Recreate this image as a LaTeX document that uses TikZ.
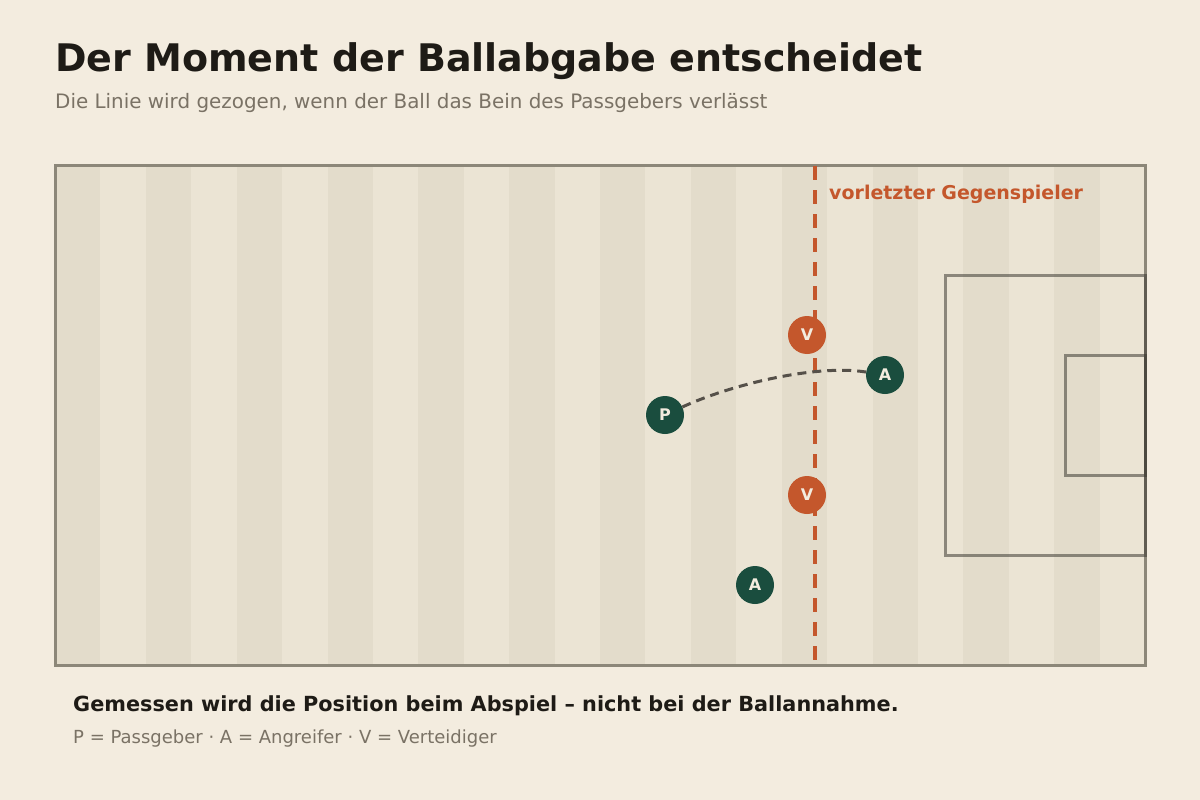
\documentclass[tikz,border=0pt]{standalone}
\usepackage{fontspec}
\setmainfont{DejaVu Sans}
\definecolor{bg}{HTML}{F3ECDF}
\definecolor{stripeA}{HTML}{E3DCCB}
\definecolor{stripeB}{HTML}{EBE4D4}
\definecolor{linegray}{HTML}{8C8779}
\definecolor{boxline}{HTML}{3D3A33}
\definecolor{orng}{HTML}{C4572C}
\definecolor{dgreen}{HTML}{1A4D3E}
\definecolor{ink}{HTML}{1E1B16}
\definecolor{muted}{HTML}{7A7265}
\definecolor{pathgray}{HTML}{555049}
\tikzset{
  player/.style={circle, fill=dgreen, minimum size=38pt, inner sep=0pt, text=bg, font=\fontsize{16}{16}\selectfont\bfseries},
  defender/.style={player, fill=orng},
  txt/.style={anchor=base west, inner sep=0pt},
  box/.style={boxline, draw opacity=0.55, line width=3pt},
}
\begin{document}
\begin{tikzpicture}[x=1pt,y=-1pt]
\useasboundingbox (0,0) rectangle (1200,800);
\fill[bg] (0,0) rectangle (1200,800);
% title
\node[txt, text=ink, font=\fontsize{38}{38}\selectfont\bfseries] (title) at (55,72) {Der Moment der Ballabgabe entscheidet};
\node[txt, text=muted, font=\fontsize{19.9}{20}\selectfont] (sub) at (55,108) {Die Linie wird gezogen, wenn der Ball das Bein des Passgebers verlässt};
% pitch stripes
\foreach \i in {0,...,23}{
  \pgfmathsetmacro{\xa}{55+\i*45.41667}
  \pgfmathsetmacro{\xb}{55+(\i+1)*45.41667}
  \ifodd\i \def\sc{stripeB}\else \def\sc{stripeA}\fi
  \fill[\sc] (\xa,165) rectangle (\xb,665);
}
% border
\draw[linegray, line width=3pt] (55,165) rectangle (1145,665);
% boxes
\draw[box] (1145,275) -- (945,275) -- (945,555) -- (1145,555) -- cycle;
\draw[box] (1145,355) -- (1065,355) -- (1065,475) -- (1145,475) -- cycle;
% offside line
\draw[orng, line width=4pt, dash pattern=on 14pt off 10pt] (815,166) -- (815,662);
\node[txt, text=orng, font=\fontsize{19}{19}\selectfont\bfseries] (lbl) at (829,199) {vorletzter Gegenspieler};
% players
\node[defender] (V1) at (807,335) {V};
\node[player] (A1) at (885,375) {A};
\node[player] (P) at (665,415) {P};
\node[defender] (V2) at (807,495) {V};
\node[player] (A2) at (755,585) {A};
\draw[pathgray, line width=3pt, dash pattern=on 9pt off 6pt] (P) .. controls (730,385) and (815,364) .. (A1);
% footer
\node[txt, text=ink, font=\fontsize{20.8}{21}\selectfont\bfseries] (foot) at (73,711) {Gemessen wird die Position beim Abspiel – nicht bei der Ballannahme.};
\node[txt, text=muted, font=\fontsize{18}{18}\selectfont] (legend) at (73,743) {P = Passgeber · A = Angreifer · V = Verteidiger};
\end{tikzpicture}
\end{document}
